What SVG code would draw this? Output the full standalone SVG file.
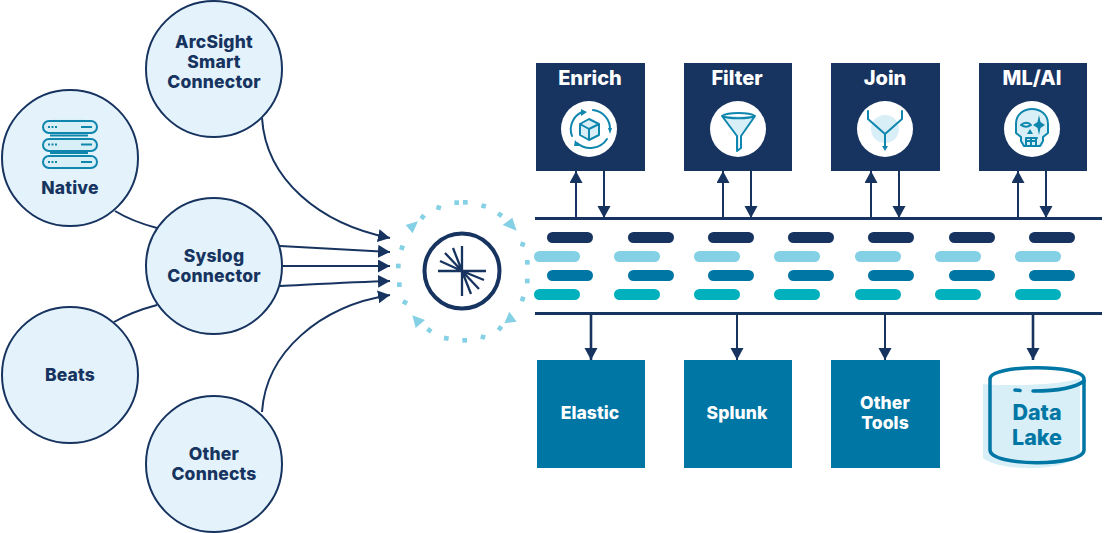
<svg xmlns="http://www.w3.org/2000/svg" width="1108" height="533" viewBox="0 0 1108 533">
<defs>
<style>
.node{fill:#e4f3fb;stroke:#17335f;stroke-width:2}
.t{font-family:"Inter","Liberation Sans",sans-serif;font-weight:800;text-anchor:middle}
.nt{font-size:17.500px;fill:#17335f;letter-spacing:.2px}
.bt{font-size:20px;fill:#fff}
.st{font-size:17.500px;fill:#fff;letter-spacing:.1px}
.c{fill:none;stroke:#17335f;stroke-width:2}
.a{fill:none;stroke:#17335f;stroke-width:2;marker-end:url(#ah)}
.a2{fill:none;stroke:#17335f;stroke-width:2.600;marker-end:url(#ah2)}
.bus{stroke:#17335f;stroke-width:3}
.navy{fill:#17335f}.blue{fill:#0076a5}.lt{fill:#84d0e4}.teal{fill:#00b0bc}
.ic{fill:none;stroke:#0f86ae;stroke-width:2;stroke-linecap:round;stroke-linejoin:round}
.sh{fill:#d8eff7}
.dot{fill:#84d0e4}
</style>
<marker id="ah" markerUnits="userSpaceOnUse" markerWidth="14" markerHeight="14" refX="12" refY="6.500" orient="auto"><path d="M0 0L12 6.500L0 13Z" fill="#17335f"/></marker>
<marker id="ah2" markerUnits="userSpaceOnUse" markerWidth="14" markerHeight="14" refX="12" refY="6.500" orient="auto"><path d="M0 0L12 6.500L0 13Z" fill="#17335f"/></marker>
</defs>
<rect width="1108" height="533" fill="#fff"/>
<g id="connectors">
<path class="a" d="M262 118C266 180 320 224 390 238"/>
<path class="c" d="M115 211C128 219 142 224 157 228"/>
<path class="c" d="M114 322C128 314 142 309 157 305"/>
<path class="a" d="M280 246C320 248 355 250 390 252"/>
<path class="a" d="M282 266H390"/>
<path class="a" d="M280 286C320 284 355 282 390 281"/>
<path class="a" d="M262 412C266 352 320 306 390 295"/>
<path class="a" d="M576 218V171"/><path class="a" d="M604 171V218"/>
<path class="a" d="M723 218V171"/><path class="a" d="M751 171V218"/>
<path class="a" d="M871 218V171"/><path class="a" d="M899 171V218"/>
<path class="a" d="M1018 218V171"/><path class="a" d="M1046 171V218"/>
<path class="a2" d="M591 314V360"/><path class="a" d="M737 314V360"/><path class="a" d="M885 314V360"/><path class="a2" d="M1033 314V360"/>
</g>
<g id="arcsight"><circle class="node" cx="214" cy="69" r="68"/><text class="t nt" x="214" y="48">ArcSight</text><text class="t nt" x="214" y="68">Smart</text><text class="t nt" x="214" y="88">Connector</text></g>
<g id="native"><circle class="node" cx="70" cy="158" r="68"/>
<rect class="sh" x="50" y="118" width="38" height="52" rx="5" opacity=".6"/>
<g fill="#d8eff7" stroke="#0f86ae" stroke-width="2"><rect x="43" y="121" width="54" height="12" rx="6"/><rect x="43" y="139" width="54" height="12" rx="6"/><rect x="43" y="156" width="54" height="12" rx="6"/></g>
<path d="M50 135.500H88M50 153H88M81 127H92M81 144.500H92M81 162H92" stroke="#0f86ae" stroke-width="2"/>
<path d="M48 127H57M48 144.500H57M48 162H57" stroke="#0f86ae" stroke-width="2" stroke-dasharray="2 1.500"/>
<text class="t nt" x="70" y="194">Native</text></g>
<g id="syslog"><circle class="node" cx="214" cy="266" r="68"/><text class="t nt" x="214" y="262">Syslog</text><text class="t nt" x="214" y="282">Connector</text></g>
<g id="beats"><circle class="node" cx="70" cy="375" r="68"/><text class="t nt" x="70" y="381">Beats</text></g>
<g id="other-connects"><circle class="node" cx="214" cy="464" r="68"/><text class="t nt" x="214" y="460">Other</text><text class="t nt" x="214" y="480">Connects</text></g>
<g id="hub">
<circle cx="462" cy="271" r="37.500" fill="none" stroke="#17335f" stroke-width="4"/>
<path d="M462 246V296M438 271H486M462 271L453 248M462 271L445 253M462 271L440 261M462 271L484 280M462 271L479 289M462 271L471 294" stroke="#17335f" stroke-width="2.300" fill="none"/>
<g transform="translate(370 180) scale(.3333)" class="dot">
<rect x="253" y="61" width="14" height="14"/><rect x="279" y="60" width="14" height="14"/><rect x="334" y="71" width="14" height="14" transform="rotate(15 341 78)"/><rect x="383" y="97" width="14" height="14" transform="rotate(35 390 104)"/><rect x="451" y="186" width="14" height="14" transform="rotate(20 458 193)"/><rect x="465" y="240" width="14" height="14"/><rect x="465" y="296" width="14" height="14"/><rect x="451" y="350" width="14" height="14" transform="rotate(20 458 357)"/><rect x="383" y="438" width="14" height="14" transform="rotate(35 390 445)"/><rect x="332" y="464" width="14" height="14" transform="rotate(15 339 471)"/><rect x="277" y="474" width="14" height="14"/><rect x="222" y="468" width="14" height="14" transform="rotate(10 229 475)"/><rect x="171" y="444" width="14" height="14" transform="rotate(35 178 451)"/><rect x="98" y="360" width="14" height="14" transform="rotate(25 105 367)"/><rect x="81" y="307" width="14" height="14"/><rect x="78" y="251" width="14" height="14"/><rect x="89" y="196" width="14" height="14" transform="rotate(20 96 203)"/><rect x="151" y="104" width="14" height="14" transform="rotate(35 158 111)"/><rect x="199" y="76" width="14" height="14" transform="rotate(15 206 83)"/>
<path d="M107 135L144 124L128 160Z"/><path d="M398 135L427 113L440 152Z"/><path d="M403 430L440 425L418 395Z"/><path d="M127 406L165 420L137 444Z"/>
</g></g>
<g id="stream">
<path class="bus" d="M535 218.500H1102M535 313.500H1102"/>
<g class="navy"><rect x="547" y="232" width="46" height="11" rx="5.500"/><rect x="628" y="232" width="46" height="11" rx="5.500"/><rect x="708" y="232" width="46" height="11" rx="5.500"/><rect x="788" y="232" width="46" height="11" rx="5.500"/><rect x="868" y="232" width="46" height="11" rx="5.500"/><rect x="949" y="232" width="46" height="11" rx="5.500"/><rect x="1029" y="232" width="46" height="11" rx="5.500"/></g>
<g class="lt"><rect x="534" y="251" width="46" height="11" rx="5.500"/><rect x="614" y="251" width="46" height="11" rx="5.500"/><rect x="694" y="251" width="46" height="11" rx="5.500"/><rect x="774" y="251" width="46" height="11" rx="5.500"/><rect x="855" y="251" width="46" height="11" rx="5.500"/><rect x="935" y="251" width="46" height="11" rx="5.500"/><rect x="1015" y="251" width="46" height="11" rx="5.500"/></g>
<g class="blue"><rect x="547" y="270" width="46" height="11" rx="5.500"/><rect x="628" y="270" width="46" height="11" rx="5.500"/><rect x="708" y="270" width="46" height="11" rx="5.500"/><rect x="788" y="270" width="46" height="11" rx="5.500"/><rect x="868" y="270" width="46" height="11" rx="5.500"/><rect x="949" y="270" width="46" height="11" rx="5.500"/><rect x="1029" y="270" width="46" height="11" rx="5.500"/></g>
<g class="teal"><rect x="534" y="289" width="46" height="11" rx="5.500"/><rect x="614" y="289" width="46" height="11" rx="5.500"/><rect x="694" y="289" width="46" height="11" rx="5.500"/><rect x="774" y="289" width="46" height="11" rx="5.500"/><rect x="855" y="289" width="46" height="11" rx="5.500"/><rect x="935" y="289" width="46" height="11" rx="5.500"/><rect x="1015" y="289" width="46" height="11" rx="5.500"/></g>
</g>
<g id="enrich"><rect class="navy" x="536" y="63" width="109" height="108"/><text class="t bt" x="590" y="85">Enrich</text><circle cx="589" cy="129" r="28" fill="#fff"/>
<path class="sh" d="M589 119L599 124V135L589 140L580 135V124Z"/>
<path class="ic" d="M589 119L599 124V135L589 140L580 135V124ZM580 124L589 129L599 124M589 129V140"/>
<path class="ic" d="M572 136A19 19 0 0 1 582 112M593 110A19 19 0 0 1 610 130M607 139A20 20 0 0 1 577 143"/>
<path d="M581 109L587 112L581 116ZM608 128L612 128L610 134ZM575 140L580 146L574 146Z" fill="#0f86ae"/></g>
<g id="filter"><rect class="navy" x="684" y="63" width="108" height="108"/><text class="t bt" x="737" y="85">Filter</text><circle cx="738" cy="129" r="28" fill="#fff"/>
<path class="sh" d="M722 116H755L739 136V148L737 150V136Z"/>
<path class="ic" d="M722 116C728 112 749 112 755 116C749 119 728 119 722 116L737 136V151L741 148V136L755 116"/></g>
<g id="join"><rect class="navy" x="831" y="63" width="109" height="108"/><text class="t bt" x="885" y="85">Join</text><circle cx="885" cy="129" r="28" fill="#fff"/>
<circle cx="885" cy="129" r="14" fill="#d8eff7"/>
<path class="ic" d="M868 111V119L885 134L902 119V111M885 134V148"/><path d="M882 146H888L885 151Z" fill="#0f86ae"/></g>
<g id="mlai"><rect class="navy" x="979" y="63" width="108" height="108"/><text class="t bt" x="1032" y="85">ML/AI</text><circle cx="1032" cy="129" r="28" fill="#fff"/>
<path class="sh" d="M1016 124C1016 104 1048 104 1048 124V133L1043 137V147H1022V137L1016 133Z"/>
<path class="ic" d="M1016 124C1016 104 1048 104 1048 124V133L1043 137V141L1040 146H1024L1021 141V137L1016 133Z" stroke-width="1.800"/>
<path class="ic" d="M1026 138V145M1031 138V145M1036 138V145M1026 141H1036M1026 138H1037M1021 125C1024 122 1029 122 1031 125C1028 127 1024 127 1021 125Z" stroke-width="1.500"/>
<path d="M1039 115L1040.500 122L1045 125L1040.500 128L1039 135L1037.500 128L1033 125L1037.500 122ZM1030 129L1033 134H1027Z" fill="#0f86ae"/></g>
<g id="elastic"><rect class="blue" x="537" y="360" width="108" height="108"/><text class="t st" x="590" y="419">Elastic</text></g>
<g id="splunk"><rect class="blue" x="684" y="360" width="108" height="108"/><text class="t st" x="737" y="419">Splunk</text></g>
<g id="other-tools"><rect class="blue" x="831" y="360" width="109" height="108"/><text class="t st" x="885" y="409">Other</text><text class="t st" x="885" y="429">Tools</text></g>
<g id="data-lake">
<path class="sh" d="M983 384C1000 386 1060 386 1080 378V455C1065 472 1000 472 983 458Z"/>
<path fill="none" stroke="#0076a5" stroke-width="3.500" d="M990 379C990 364 1084 364 1084 379V450C1084 467 990 467 990 450Z"/>
<path fill="none" stroke="#0076a5" stroke-width="3.500" stroke-linecap="round" d="M1015 390L1020 390.500M1033 391C1055 391 1075 388 1084 381"/>
<text class="t" x="1037" y="420" font-size="21.500" fill="#0076a5">Data</text><text class="t" x="1037" y="445" font-size="21.500" fill="#0076a5">Lake</text></g>
</svg>
